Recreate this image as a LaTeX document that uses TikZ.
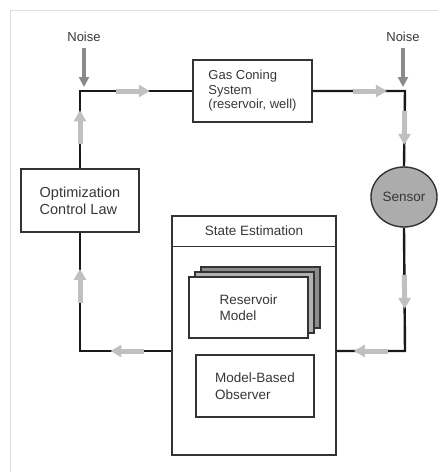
\documentclass[tikz,border=0pt]{standalone}
\usepackage{fontspec}
\setmainfont{Liberation Sans}
\usetikzlibrary{arrows.meta,shapes.geometric,shadows,decorations.markings,positioning}
\definecolor{flowgray}{RGB}{192,192,192}
\definecolor{noisegray}{RGB}{138,138,138}
\definecolor{sensorgray}{RGB}{172,172,172}
\definecolor{stackgray}{RGB}{140,140,140}
\definecolor{stacklight}{RGB}{178,178,178}
\definecolor{textgray}{RGB}{55,55,55}
\definecolor{framegray}{RGB}{222,222,222}
\newcommand{\boxfont}{\fontsize{13.5}{16.5}\selectfont}
\newcommand{\smallboxfont}{\fontsize{13}{14.5}\selectfont}
\tikzset{
  blockbox/.style={draw=black!80,line width=1.4pt,minimum width=118pt,minimum height=62pt,
    align=left,text=textgray,font=\boxfont},
  loopline/.style={line width=2.4pt,draw=black!90},
  flowarrow/.style={draw=flowgray,fill=flowgray,line width=5pt,-{Triangle[length=11pt,width=12pt]}},
  flowmid/.style={postaction={decorate,decoration={markings,
    mark=at position #1 with {\draw[flowarrow] (-17pt,0pt)--(17pt,0pt);}}}},
  noisearrow/.style={draw=noisegray,fill=noisegray,line width=3.5pt,-{Triangle[length=10pt,width=10pt]},
    shorten <=3pt,shorten >=4pt},
  noisetext/.style={text=textgray,font=\smallboxfont}
}

\begin{document}
\begin{tikzpicture}[x=1pt,y=-1pt]
\useasboundingbox (0,0) rectangle (438,472);
\draw[framegray,line width=0.8pt] (10,472) -- (10,10) -- (438,10);

\node[blockbox,minimum width=119pt,font=\smallboxfont] (gas) at (252.5,91) {Gas Coning\\System\\(reservoir, well)};
\node[blockbox,minimum height=63pt,font=\fontsize{14.5}{17}\selectfont] (opt) at (80,200.5) {Optimization\\Control Law};
\node[ellipse,draw=black!80,line width=1.4pt,fill=sensorgray,minimum width=66pt,minimum height=60pt,
  inner sep=0pt,text=textgray,font=\boxfont] (sensor) at (404,197) {Sensor};
\node[noisetext] (noiseL) at (84,37) {Noise};
\node[noisetext] (noiseR) at (403,37) {Noise};

\node[blockbox,minimum width=164pt,minimum height=239pt] (est) at (254,335.5) {};
\node[below=0pt of est.north,minimum height=31pt,text=textgray,font=\boxfont] (esttitle) {State Estimation};
\draw[draw=black!80,line width=1.4pt] (esttitle.south -| est.west) -- (esttitle.south -| est.east);
\node[blockbox,minimum width=119pt,minimum height=61pt,fill=white,
  copy shadow={shadow xshift=12pt,shadow yshift=10pt,fill=stackgray,draw=black!80},
  copy shadow={shadow xshift=6pt,shadow yshift=5pt,fill=stacklight,draw=black!80}] (resmodel) at (248.5,307.5) {Reservoir\\Model};
\node[blockbox] (observer) at (255,386) {Model-Based\\Observer};

\coordinate (cTL) at (80,91);
\coordinate (cTR) at (405,91);
\coordinate (cBL) at (80,351);
\coordinate (cBR) at (405,351);

\draw[loopline] (opt.north) -- (cTL) -- (gas.west);
\draw[loopline] (gas.east) -- (cTR) -- (sensor.north);
\draw[loopline] (sensor.south) -- (cBR) -- (cBR -| est.east);
\draw[loopline] (cBL -| est.west) -- (cBL) -- (opt.south);

\path[flowmid=0.53] (opt.north) -- (cTL);
\path[flowmid=0.47] (cTL) -- (gas.west);
\path[flowmid=0.62] (gas.east) -- (cTR);
\path[flowmid=0.49] (cTR) -- (sensor.north);
\path[flowmid=0.52] (sensor.south) -- (cBR);
\path[flowmid=0.5] (cBR) -- (cBR -| est.east);
\path[flowmid=0.48] (cBL -| est.west) -- (cBL);
\path[flowmid=0.55] (cBL) -- (opt.south);

\draw[noisearrow] (noiseL) -- (noiseL |- cTL);
\draw[noisearrow] (noiseR) -- (noiseR |- cTR);
\end{tikzpicture}
\end{document}
